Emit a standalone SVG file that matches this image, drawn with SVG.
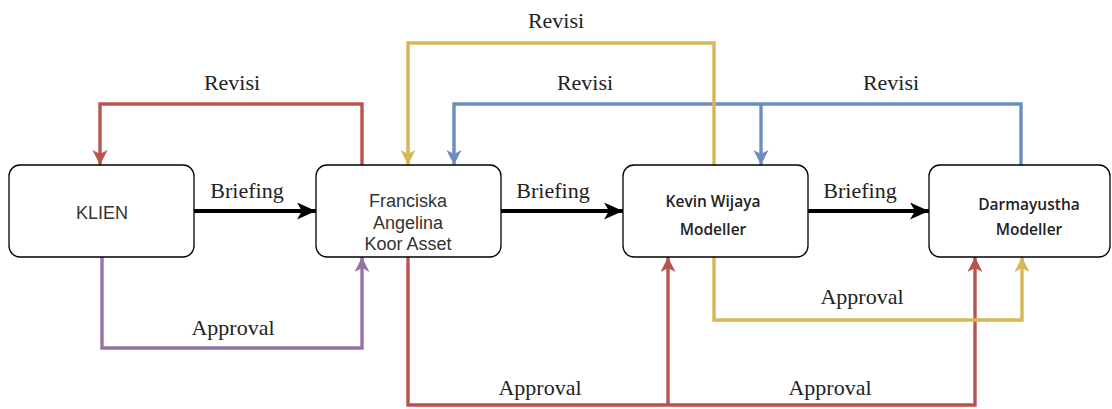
<svg xmlns="http://www.w3.org/2000/svg" width="1112" height="409" viewBox="0 0 1112 409">
<style>
.box{fill:#fff;stroke:#000;stroke-width:1.3}
.nt{font-family:"Liberation Sans",Arial,sans-serif;font-size:18px;fill:#333;text-anchor:middle}
.nb{font-family:"Open Sans","Liberation Sans",sans-serif;font-size:15.5px;font-weight:600;fill:#222;text-anchor:middle}
.lb{font-family:"Liberation Serif","Times New Roman",serif;font-size:22px;fill:#222;text-anchor:middle}
.c{fill:none;stroke-width:3.4;stroke-linejoin:miter}
.k{stroke:#000;stroke-width:4.2}
.r{stroke:#b85450}
.y{stroke:#d6b656}
.b{stroke:#6c8ebf}
.p{stroke:#9673a6}
</style>
<defs>
<marker id="ak" markerUnits="userSpaceOnUse" markerWidth="22" markerHeight="20" refX="19" refY="8.5" orient="auto"><path d="M0,0 L19,8.5 L0,17 L5,8.5 z" fill="#000"/></marker>
<marker id="ar" markerUnits="userSpaceOnUse" markerWidth="18" markerHeight="18" refX="15" refY="7.5" orient="auto"><path d="M0,0 L15,7.5 L0,15 L4,7.5 z" fill="#b85450"/></marker>
<marker id="ay" markerUnits="userSpaceOnUse" markerWidth="18" markerHeight="18" refX="15" refY="7.5" orient="auto"><path d="M0,0 L15,7.5 L0,15 L4,7.5 z" fill="#d6b656"/></marker>
<marker id="ab" markerUnits="userSpaceOnUse" markerWidth="18" markerHeight="18" refX="15" refY="7.5" orient="auto"><path d="M0,0 L15,7.5 L0,15 L4,7.5 z" fill="#6c8ebf"/></marker>
<marker id="ap" markerUnits="userSpaceOnUse" markerWidth="18" markerHeight="18" refX="15" refY="7.5" orient="auto"><path d="M0,0 L15,7.5 L0,15 L4,7.5 z" fill="#9673a6"/></marker>
</defs>
<rect width="1112" height="409" fill="#fff"/>
<g id="connectors">
  <path class="c k" d="M194,211 H316" marker-end="url(#ak)"/>
  <path class="c k" d="M501,211 H623" marker-end="url(#ak)"/>
  <path class="c k" d="M808,211 H929" marker-end="url(#ak)"/>
  <path class="c r" d="M362,165 V104 H100 V165" marker-end="url(#ar)"/>
  <path class="c b" d="M1021,165 V104 H454 V165" marker-end="url(#ab)"/>
  <path class="c b" d="M761,104 V165" marker-end="url(#ab)"/>
  <path class="c y" d="M714,165 V43 H408 V165" marker-end="url(#ay)"/>
  <path class="c p" d="M102,257 V348 H362 V257" marker-end="url(#ap)"/>
  <path class="c r" d="M408,257 V405 H975 V257" marker-end="url(#ar)"/>
  <path class="c r" d="M668,405 V257" marker-end="url(#ar)"/>
  <path class="c y" d="M714,257 V320 H1022 V257" marker-end="url(#ay)"/>
  <text class="lb" x="247" y="198">Briefing</text>
  <text class="lb" x="553" y="198">Briefing</text>
  <text class="lb" x="860" y="198">Briefing</text>
  <text class="lb" x="232" y="90">Revisi</text>
  <text class="lb" x="556" y="28">Revisi</text>
  <text class="lb" x="585" y="90">Revisi</text>
  <text class="lb" x="891" y="90">Revisi</text>
  <text class="lb" x="233" y="335">Approval</text>
  <text class="lb" x="862" y="304">Approval</text>
  <text class="lb" x="540" y="395">Approval</text>
  <text class="lb" x="830" y="395">Approval</text>
</g>
<g id="klien">
  <rect class="box" x="9" y="165" width="185" height="92" rx="11"/>
  <text class="nt" x="102" y="219">KLIEN</text>
</g>
<g id="franciska">
  <rect class="box" x="316" y="165" width="185" height="92" rx="11"/>
  <text class="nt" x="408" y="207">Franciska</text>
  <text class="nt" x="408" y="228.5">Angelina</text>
  <text class="nt" x="408" y="250">Koor Asset</text>
</g>
<g id="kevin">
  <rect class="box" x="623" y="165" width="185" height="92" rx="11"/>
  <text class="nb" x="713" y="207">Kevin Wijaya</text>
  <text class="nb" x="713" y="235">Modeller</text>
</g>
<g id="darmayustha">
  <rect class="box" x="929" y="165" width="181" height="92" rx="11"/>
  <text class="nb" x="1029" y="210">Darmayustha</text>
  <text class="nb" x="1029" y="235">Modeller</text>
</g>
</svg>
